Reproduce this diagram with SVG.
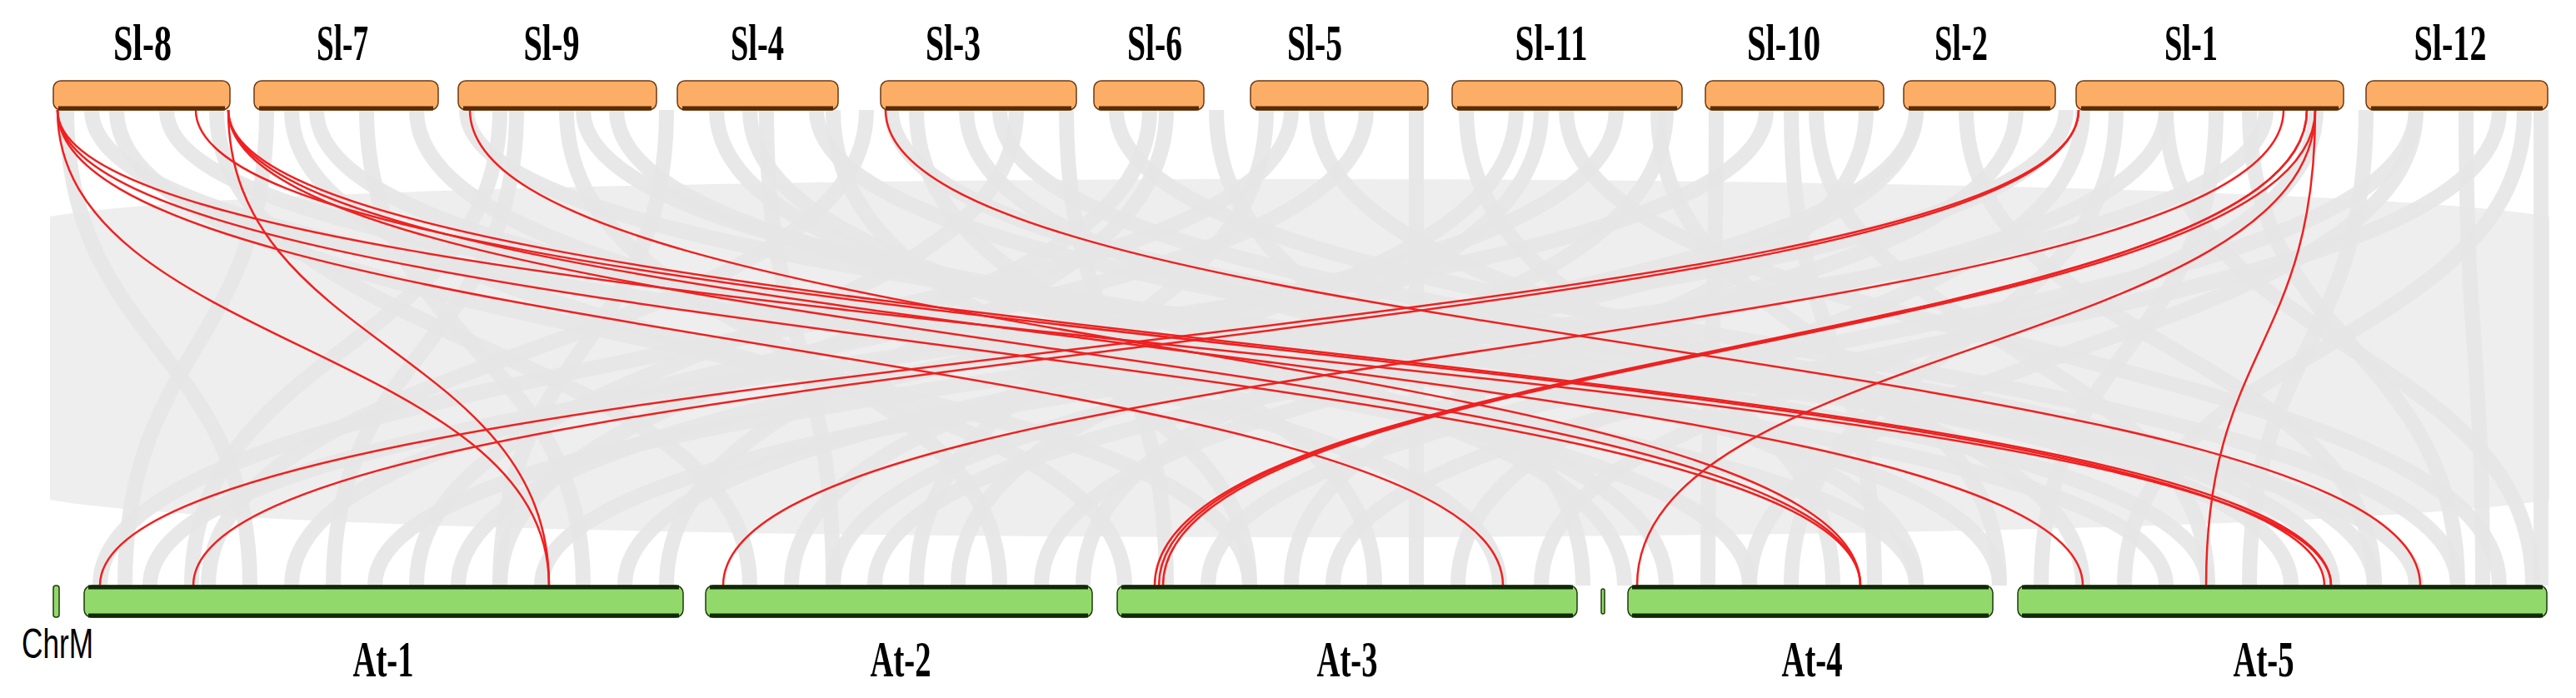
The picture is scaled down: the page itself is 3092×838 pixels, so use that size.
<svg xmlns="http://www.w3.org/2000/svg" width="3092" height="838" viewBox="0 0 3092 838">
<style>
.g{fill:none;stroke:#e6e6e6;stroke-width:18;stroke-opacity:0.9}
.r{fill:none;stroke:#f02020;stroke-width:2.5}
.top{fill:#fdae66;stroke:#6b3a10;stroke-width:1.5}
.tb{stroke:#5a2a00;stroke-width:5}
.bot{fill:#92d96c;stroke:#1d3a0a;stroke-width:1.5}
.bb{stroke:#0f2a05;stroke-width:5}
.lt{font-family:"Liberation Serif",serif;font-weight:bold;font-size:62px;text-anchor:middle;fill:#000}
.lc{font-family:"Liberation Sans",sans-serif;font-size:50px;fill:#000}
</style>
<rect width="3092" height="838" fill="#fff"/>
<g id="connectors">
<g id="grey">
<path d="M60,260 C400,200 2700,200 3060,260 L3060,600 C2700,660 400,660 60,600 Z" fill="#eeeeee"/>
<path class="g" d="M80,132C80,417 300,417 300,703"/>
<path class="g" d="M140,132C140,417 1500,417 1500,703"/>
<path class="g" d="M200,132C200,417 2600,417 2600,703"/>
<path class="g" d="M260,132C260,417 900,417 900,703"/>
<path class="g" d="M320,132C320,417 150,417 150,703"/>
<path class="g" d="M380,132C380,417 2100,417 2100,703"/>
<path class="g" d="M440,132C440,417 700,417 700,703"/>
<path class="g" d="M500,132C500,417 1800,417 1800,703"/>
<path class="g" d="M560,132C560,417 2900,417 2900,703"/>
<path class="g" d="M620,132C620,417 400,417 400,703"/>
<path class="g" d="M680,132C680,417 1200,417 1200,703"/>
<path class="g" d="M740,132C740,417 2400,417 2400,703"/>
<path class="g" d="M800,132C800,417 600,417 600,703"/>
<path class="g" d="M860,132C860,417 2000,417 2000,703"/>
<path class="g" d="M920,132C920,417 1000,417 1000,703"/>
<path class="g" d="M980,132C980,417 2750,417 2750,703"/>
<path class="g" d="M1040,132C1040,417 250,417 250,703"/>
<path class="g" d="M1100,132C1100,417 1650,417 1650,703"/>
<path class="g" d="M1160,132C1160,417 2300,417 2300,703"/>
<path class="g" d="M1220,132C1220,417 500,417 500,703"/>
<path class="g" d="M1280,132C1280,417 1400,417 1400,703"/>
<path class="g" d="M1340,132C1340,417 2950,417 2950,703"/>
<path class="g" d="M1400,132C1400,417 800,417 800,703"/>
<path class="g" d="M1460,132C1460,417 1900,417 1900,703"/>
<path class="g" d="M1520,132C1520,417 1100,417 1100,703"/>
<path class="g" d="M1580,132C1580,417 2500,417 2500,703"/>
<path class="g" d="M1640,132C1640,417 350,417 350,703"/>
<path class="g" d="M1700,132C1700,417 1700,417 1700,703"/>
<path class="g" d="M1760,132C1760,417 2200,417 2200,703"/>
<path class="g" d="M1820,132C1820,417 950,417 950,703"/>
<path class="g" d="M1880,132C1880,417 3000,417 3000,703"/>
<path class="g" d="M1940,132C1940,417 550,417 550,703"/>
<path class="g" d="M2000,132C2000,417 1300,417 1300,703"/>
<path class="g" d="M2060,132C2060,417 2050,417 2050,703"/>
<path class="g" d="M2120,132C2120,417 180,417 180,703"/>
<path class="g" d="M2180,132C2180,417 2650,417 2650,703"/>
<path class="g" d="M2240,132C2240,417 1550,417 1550,703"/>
<path class="g" d="M2300,132C2300,417 750,417 750,703"/>
<path class="g" d="M2360,132C2360,417 2850,417 2850,703"/>
<path class="g" d="M2420,132C2420,417 1250,417 1250,703"/>
<path class="g" d="M2480,132C2480,417 450,417 450,703"/>
<path class="g" d="M2540,132C2540,417 2150,417 2150,703"/>
<path class="g" d="M2600,132C2600,417 1050,417 1050,703"/>
<path class="g" d="M2660,132C2660,417 2450,417 2450,703"/>
<path class="g" d="M2720,132C2720,417 650,417 650,703"/>
<path class="g" d="M2780,132C2780,417 1850,417 1850,703"/>
<path class="g" d="M2840,132C2840,417 2700,417 2700,703"/>
<path class="g" d="M2900,132C2900,417 1450,417 1450,703"/>
<path class="g" d="M2960,132C2960,417 2980,417 2980,703"/>
<path class="g" d="M3030,132C3030,417 2550,417 2550,703"/>
<path class="g" d="M110,132C110,417 2300,417 2300,703"/>
<path class="g" d="M350,132C350,417 1350,417 1350,703"/>
<path class="g" d="M600,132C600,417 230,417 230,703"/>
<path class="g" d="M1070,132C1070,417 2800,417 2800,703"/>
<path class="g" d="M1550,132C1550,417 120,417 120,703"/>
<path class="g" d="M1990,132C1990,417 2400,417 2400,703"/>
<path class="g" d="M2300,132C2300,417 1000,417 1000,703"/>
<path class="g" d="M2600,132C2600,417 3040,417 3040,703"/>
<path class="g" d="M2900,132C2900,417 2100,417 2100,703"/>
<path class="g" d="M3000,132C3000,417 1600,417 1600,703"/>
<path class="g" d="M700,132C700,417 2650,417 2650,703"/>
<path class="g" d="M1380,132C1380,417 600,417 600,703"/>
<path class="g" d="M1850,132C1850,417 1150,417 1150,703"/>
<path class="g" d="M2500,132C2500,417 1750,417 1750,703"/>
<path class="g" d="M900,132C900,417 1950,417 1950,703"/>
<path class="g" d="M3050,132C3050,417 3050,417 3050,703"/>
<path class="g" d="M1200,132C1200,417 2850,417 2850,703"/>
<path class="g" d="M2150,132C2150,417 2250,417 2250,703"/>
<path class="g" d="M2700,132C2700,417 2950,417 2950,703"/>
<path class="g" d="M1000,132C1000,417 1500,417 1500,703"/>
</g>
<g id="red">
<path class="r" d="M69,132C69,417 659,417 659,703"/>
<path class="r" d="M69,132C69,417 1804,417 1804,703"/>
<path class="r" d="M69,132C69,417 2233,417 2233,703"/>
<path class="r" d="M69,132C69,417 2798,417 2798,703"/>
<path class="r" d="M235,132C235,417 2790,417 2790,703"/>
<path class="r" d="M274,132C274,417 659,417 659,703"/>
<path class="r" d="M274,132C274,417 2500,417 2500,703"/>
<path class="r" d="M274,132C274,417 2798,417 2798,703"/>
<path class="r" d="M274,132C274,417 2233,417 2233,703"/>
<path class="r" d="M564,132C564,417 2233,417 2233,703"/>
<path class="r" d="M1063,132C1063,417 2905,417 2905,703"/>
<path class="r" d="M2495,132C2495,417 120,417 120,703"/>
<path class="r" d="M2495,132C2495,417 232,417 232,703"/>
<path class="r" d="M2741,132C2741,417 868,417 868,703"/>
<path class="r" d="M2769,132C2769,417 1386,417 1386,703"/>
<path class="r" d="M2769,132C2769,417 1391,417 1391,703"/>
<path class="r" d="M2779,132C2779,417 1396,417 1396,703"/>
<path class="r" d="M2779,132C2779,417 1965,417 1965,703"/>
<path class="r" d="M2779,132C2779,417 2648,417 2648,703"/>
</g>
</g>
<g id="Sl-8"><rect class="top" x="64" y="97" width="212" height="35" rx="9"/><line class="tb" x1="70" y1="130" x2="270" y2="130"/><text class="lt" x="171" y="72" textLength="70" lengthAdjust="spacingAndGlyphs">Sl-8</text></g>
<g id="Sl-7"><rect class="top" x="305" y="97" width="221" height="35" rx="9"/><line class="tb" x1="311" y1="130" x2="520" y2="130"/><text class="lt" x="411" y="72" textLength="62" lengthAdjust="spacingAndGlyphs">Sl-7</text></g>
<g id="Sl-9"><rect class="top" x="550" y="97" width="238" height="35" rx="9"/><line class="tb" x1="556" y1="130" x2="782" y2="130"/><text class="lt" x="662" y="72" textLength="67" lengthAdjust="spacingAndGlyphs">Sl-9</text></g>
<g id="Sl-4"><rect class="top" x="813" y="97" width="193" height="35" rx="9"/><line class="tb" x1="819" y1="130" x2="1000" y2="130"/><text class="lt" x="909" y="72" textLength="64" lengthAdjust="spacingAndGlyphs">Sl-4</text></g>
<g id="Sl-3"><rect class="top" x="1057" y="97" width="235" height="35" rx="9"/><line class="tb" x1="1063" y1="130" x2="1286" y2="130"/><text class="lt" x="1144" y="72" textLength="66" lengthAdjust="spacingAndGlyphs">Sl-3</text></g>
<g id="Sl-6"><rect class="top" x="1313" y="97" width="132" height="35" rx="9"/><line class="tb" x1="1319" y1="130" x2="1439" y2="130"/><text class="lt" x="1386" y="72" textLength="66" lengthAdjust="spacingAndGlyphs">Sl-6</text></g>
<g id="Sl-5"><rect class="top" x="1501" y="97" width="213" height="35" rx="9"/><line class="tb" x1="1507" y1="130" x2="1708" y2="130"/><text class="lt" x="1578" y="72" textLength="66" lengthAdjust="spacingAndGlyphs">Sl-5</text></g>
<g id="Sl-11"><rect class="top" x="1743" y="97" width="276" height="35" rx="9"/><line class="tb" x1="1749" y1="130" x2="2013" y2="130"/><text class="lt" x="1862" y="72" textLength="87" lengthAdjust="spacingAndGlyphs">Sl-11</text></g>
<g id="Sl-10"><rect class="top" x="2047" y="97" width="214" height="35" rx="9"/><line class="tb" x1="2053" y1="130" x2="2255" y2="130"/><text class="lt" x="2141" y="72" textLength="88" lengthAdjust="spacingAndGlyphs">Sl-10</text></g>
<g id="Sl-2"><rect class="top" x="2285" y="97" width="182" height="35" rx="9"/><line class="tb" x1="2291" y1="130" x2="2461" y2="130"/><text class="lt" x="2354" y="72" textLength="64" lengthAdjust="spacingAndGlyphs">Sl-2</text></g>
<g id="Sl-1"><rect class="top" x="2492" y="97" width="321" height="35" rx="9"/><line class="tb" x1="2498" y1="130" x2="2807" y2="130"/><text class="lt" x="2630" y="72" textLength="64" lengthAdjust="spacingAndGlyphs">Sl-1</text></g>
<g id="Sl-12"><rect class="top" x="2840" y="97" width="218" height="35" rx="9"/><line class="tb" x1="2846" y1="130" x2="3052" y2="130"/><text class="lt" x="2941" y="72" textLength="87" lengthAdjust="spacingAndGlyphs">Sl-12</text></g>
<g id="ChrM"><rect class="bot" x="64" y="703" width="7" height="38" rx="3"/><text class="lc" x="26" y="790" textLength="86" lengthAdjust="spacingAndGlyphs">ChrM</text></g>
<g id="At-1"><rect class="bot" x="101" y="703" width="719" height="38" rx="9"/><line class="bb" x1="106" y1="705" x2="815" y2="705"/><line class="bb" x1="106" y1="739" x2="815" y2="739"/><text class="lt" x="460" y="812" textLength="73" lengthAdjust="spacingAndGlyphs">At-1</text></g>
<g id="At-2"><rect class="bot" x="847" y="703" width="464" height="38" rx="9"/><line class="bb" x1="852" y1="705" x2="1306" y2="705"/><line class="bb" x1="852" y1="739" x2="1306" y2="739"/><text class="lt" x="1081" y="812" textLength="73" lengthAdjust="spacingAndGlyphs">At-2</text></g>
<g id="At-3"><rect class="bot" x="1341" y="703" width="552" height="38" rx="9"/><line class="bb" x1="1346" y1="705" x2="1888" y2="705"/><line class="bb" x1="1346" y1="739" x2="1888" y2="739"/><text class="lt" x="1617" y="812" textLength="73" lengthAdjust="spacingAndGlyphs">At-3</text></g>
<g id="mark"><rect class="bot" x="1922" y="707" width="4" height="30" rx="2"/></g>
<g id="At-4"><rect class="bot" x="1954" y="703" width="438" height="38" rx="9"/><line class="bb" x1="1959" y1="705" x2="2387" y2="705"/><line class="bb" x1="1959" y1="739" x2="2387" y2="739"/><text class="lt" x="2175" y="812" textLength="73" lengthAdjust="spacingAndGlyphs">At-4</text></g>
<g id="At-5"><rect class="bot" x="2422" y="703" width="635" height="38" rx="9"/><line class="bb" x1="2427" y1="705" x2="3052" y2="705"/><line class="bb" x1="2427" y1="739" x2="3052" y2="739"/><text class="lt" x="2717" y="812" textLength="73" lengthAdjust="spacingAndGlyphs">At-5</text></g>
</svg>
